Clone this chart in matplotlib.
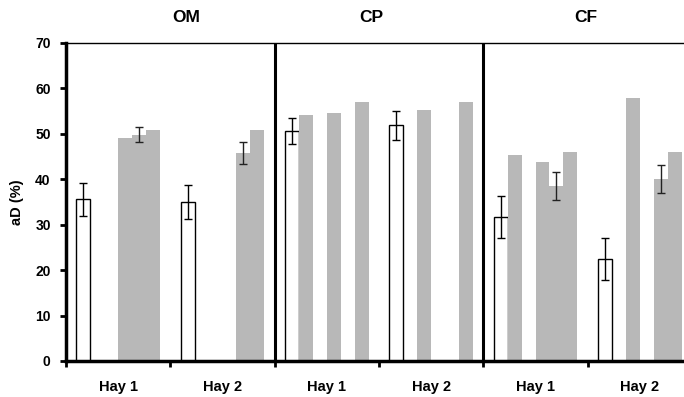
import numpy as np
import matplotlib
matplotlib.use("Agg")
import matplotlib.pyplot as plt

plt.rcParams["font.family"] = ["Liberation Sans", "DejaVu Sans"]
plt.rcParams["font.weight"] = "bold"

# ---------------------------------------------------------
# Data
# ---------------------------------------------------------
panels = ["OM", "CP", "CF"]
hays = ["Hay 1", "Hay 2"]

# white bar (first slot of each group) with error bars
white_vals = [35.6, 35.1, 50.6, 51.9, 31.7, 22.4]
white_err = [3.6, 3.75, 2.9, 3.2, 4.7, 4.65]

# grey bars, slots 1..5 of each group (nan = no bar)
nan = np.nan
gray_vals = [
    [nan, nan, 49.1, 49.8, 50.9],   # OM Hay 1
    [nan, nan, nan, 45.8, 50.9],    # OM Hay 2
    [54.2, nan, 54.6, nan, 57.0],   # CP Hay 1
    [nan, 55.3, nan, nan, 57.0],    # CP Hay 2
    [45.4, nan, 43.8, 38.5, 46.0],  # CF Hay 1
    [nan, 57.9, nan, 40.1, 46.0],   # CF Hay 2
]
gray_err = [
    [nan, nan, nan, 1.7, nan],
    [nan, nan, nan, 2.4, nan],
    [nan, nan, nan, nan, nan],
    [nan, nan, nan, nan, nan],
    [nan, nan, nan, 3.1, nan],
    [nan, nan, nan, 3.1, nan],
]

# ---------------------------------------------------------
# Figure
# ---------------------------------------------------------
W, H = 684, 397
fig = plt.figure(figsize=(W / 100, H / 100), dpi=100)
ax = fig.add_axes([66 / W, 36 / H, (692 - 66) / W, 318 / H])

n_groups = len(panels) * len(hays)
slot_w = 0.134
margin = (1 - 6 * slot_w) / 2
gray = "#b8b8b8"

gv = np.array(gray_vals)
ge = np.array(gray_err)
groups = np.arange(n_groups)

# white bars
xw = groups + margin + slot_w * 0.5
ax.bar(xw, white_vals, width=slot_w, color="white", edgecolor="black",
       linewidth=1.0, zorder=2)
ax.errorbar(xw, white_vals, yerr=white_err, fmt="none", ecolor="black",
            elinewidth=1.0, capsize=3, capthick=1.0, zorder=4)

# grey bars
for k in range(5):
    xk = groups + margin + slot_w * (k + 1.5)
    ax.bar(xk, gv[:, k], width=slot_w, color=gray, linewidth=0, zorder=2)
    mask = ~np.isnan(ge[:, k])
    if mask.any():
        ax.errorbar(xk[mask], gv[mask, k], yerr=ge[mask, k], fmt="none",
                    ecolor="#222222", elinewidth=1.0, capsize=3,
                    capthick=1.0, zorder=4)

# panel separators
for sep in [2, 4]:
    ax.axvline(sep, color="black", linewidth=2.2, zorder=5)

ax.set_xlim(0, n_groups)
ax.set_ylim(0, 70)
ax.set_yticks(np.arange(0, 71, 10))
ax.set_yticklabels([str(v) for v in range(0, 71, 10)], fontsize=10,
                   fontweight="bold")
ax.set_xticks(np.arange(0, n_groups + 1))
ax.set_xticklabels([])
ax.set_xticks(groups + 0.5, minor=True)
ax.set_xticklabels(hays * len(panels), minor=True, fontsize=10.5,
                   fontweight="bold")
ax.tick_params(axis="x", which="minor", length=0, pad=14)
ax.tick_params(axis="x", which="major", length=4, width=2, direction="out")
ax.tick_params(axis="y", length=4, width=2, pad=7)

ax.spines["left"].set_linewidth(2.5)
ax.spines["bottom"].set_linewidth(2.5)
ax.spines["top"].set_linewidth(1.0)
ax.spines["right"].set_visible(False)

ax.set_ylabel("aD (%)", fontsize=10.5, fontweight="bold", labelpad=8)

# panel titles
for name, px in zip(panels, [186, 371, 586]):
    fig.text(px / W, 1 - 17 / H, name, ha="center", va="center",
             fontsize=12.5, fontweight="bold")

fig.savefig("out.png", dpi=100)
